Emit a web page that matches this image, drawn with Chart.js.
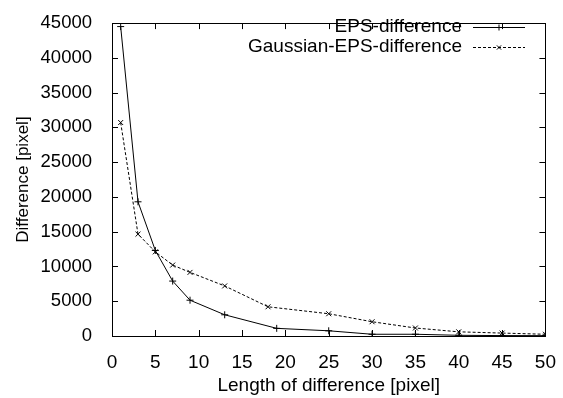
<!DOCTYPE html>
<html>
<head>
<meta charset="utf-8">
<script src="https://cdn.jsdelivr.net/npm/chart.js@4/dist/chart.umd.min.js"></script>
<style>
  html, body { margin: 0; padding: 0; background: #fff; }
</style>
</head>
<body>
<canvas id="chart" width="563" height="398"></canvas>
<script>
// values
const epsX = [1, 3, 5, 7, 9, 13, 19, 25, 30, 35, 40, 45, 50];
const epsY = [44500, 19300, 12300, 7900, 5150, 3050, 1100, 750, 250, 250, 100, 60, 50];
const gaussX = [1, 3, 5, 7, 9, 13, 18, 25, 30, 35, 40, 45, 50];
const gaussY = [30700, 14650, 12100, 10200, 9150, 7200, 4200, 3200, 2050, 1150, 600, 420, 250];
const seriesLabels = ['EPS-difference', 'Gaussian-EPS-difference'];
const xTitle = 'Length of difference [pixel]';
const yTitle = 'Difference [pixel]';

const FONT = 'Liberation Sans, Arial, Helvetica, sans-serif';

// gnuplot style: border on all four sides with inward ticks, legend top right
const gnuplotFrame = {
  id: 'gnuplotFrame',
  afterDraw(chart) {
    const { ctx, chartArea: a, scales: { x, y } } = chart;
    const tick = 6;
    ctx.save();
    ctx.strokeStyle = '#000';
    ctx.lineWidth = 1;
    ctx.setLineDash([]);
    ctx.strokeRect(Math.round(a.left) + 0.5, Math.round(a.top) + 0.5,
      Math.round(a.right - a.left), Math.round(a.bottom - a.top));
    ctx.beginPath();
    x.ticks.forEach(t => {
      const px = Math.round(x.getPixelForValue(t.value)) + 0.5;
      ctx.moveTo(px, a.bottom); ctx.lineTo(px, a.bottom - tick);
      ctx.moveTo(px, a.top); ctx.lineTo(px, a.top + tick);
    });
    y.ticks.forEach(t => {
      const py = Math.round(y.getPixelForValue(t.value)) + 0.5;
      ctx.moveTo(a.left, py); ctx.lineTo(a.left + tick, py);
      ctx.moveTo(a.right, py); ctx.lineTo(a.right - tick, py);
    });
    ctx.stroke();

    // legend
    ctx.font = '19px ' + FONT;
    ctx.fillStyle = '#000';
    ctx.textAlign = 'right';
    ctx.textBaseline = 'middle';
    chart.data.datasets.forEach((ds, i) => {
      const ly = 27 + i * 20;
      ctx.fillText(ds.label, 462, ly);
      ctx.setLineDash(ds.borderDash || []);
      ctx.beginPath();
      ctx.moveTo(473, ly + 0.5); ctx.lineTo(525, ly + 0.5);
      ctx.stroke();
      ctx.setLineDash([]);
      Chart.helpers.drawPoint(ctx, { pointStyle: ds.pointStyle, radius: 3, borderWidth: 1 }, 499, ly + 0.5);
    });
    ctx.restore();
  }
};

const toPoints = (xs, ys) => xs.map((v, i) => ({ x: v, y: ys[i] }));

new Chart(document.getElementById('chart'), {
  type: 'line',
  data: {
    datasets: [
      {
        label: seriesLabels[0],
        data: toPoints(epsX, epsY),
        borderColor: '#000',
        borderWidth: 1,
        pointStyle: 'cross',
        pointRadius: 3.5,
        pointBorderColor: '#000',
        pointBorderWidth: 1,
        fill: false,
        tension: 0
      },
      {
        label: seriesLabels[1],
        data: toPoints(gaussX, gaussY),
        borderColor: '#000',
        borderWidth: 1,
        borderDash: [3, 2],
        pointStyle: 'crossRot',
        pointRadius: 3.5,
        pointBorderColor: '#000',
        pointBorderWidth: 1,
        fill: false,
        tension: 0
      }
    ]
  },
  options: {
    responsive: false,
    animation: false,
    layout: { padding: { top: 14, right: 15, left: 0, bottom: 0 } },
    plugins: {
      legend: { display: false },
      tooltip: { enabled: false }
    },
    scales: {
      x: {
        type: 'linear',
        min: 0,
        max: 50,
        ticks: { stepSize: 5, color: '#000', font: { family: FONT, size: 19 }, padding: 7, maxRotation: 0,
          callback: v => String(v) },
        grid: { display: false },
        border: { display: false },
        title: { display: true, text: xTitle, color: '#000', font: { family: FONT, size: 19 }, padding: { top: 0, bottom: 1 } },
        afterFit: s => { s.height = 62; }
      },
      y: {
        type: 'linear',
        min: 0,
        max: 45000,
        ticks: { stepSize: 5000, color: '#000', font: { family: FONT, size: 18.5 }, padding: 12,
          callback: v => String(v) },
        grid: { display: false },
        border: { display: false },
        title: { display: true, text: yTitle, color: '#000', font: { family: FONT, size: 17 }, padding: { top: 13, bottom: 0 } },
        afterFit: s => { s.width = 112; }
      }
    }
  },
  plugins: [gnuplotFrame]
});
</script>
</body>
</html>
